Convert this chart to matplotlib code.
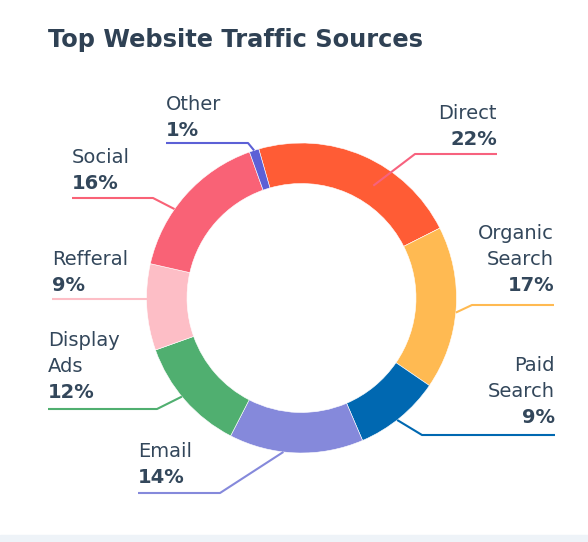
import numpy as np
import matplotlib.pyplot as plt

# ---
# Data
# ---
sources = ["Direct", "Organic\nSearch", "Paid\nSearch", "Email", "Display\nAds", "Refferal", "Social", "Other"]
shares = [22, 17, 9, 14, 12, 9, 16, 1]
colors = ["#FF5C35", "#FFBA52", "#0068B1", "#8589DB", "#50AF70", "#FDBEC6", "#F96276", "#5C60D6"]
# connector colours (Direct's connector is pink in the original)
line_colors = ["#F7627E", "#FFBA52", "#0068B1", "#8589DB", "#50AF70", "#FDBEC6", "#F96276", "#5C60D6"]

# ---
# Label layout (pixel coords, y from top)
# text x, first baseline, align, elbow (x, y), end x, connector start (angle nudge deg, radius frac)
# ---
label_x = [497, 554, 555, 138, 48, 52, 72, 166]
label_y0 = [119, 239, 371, 457, 346, 265, 163, 110]
label_ha = ["right", "right", "right", "left", "left", "left", "left", "left"]
elbows = [(415, 154), (472, 305), (422, 435), (220, 493), (157, 409), (147, 299), (153, 198), (248, 143)]
line_end_x = [497, 554, 555, 138, 48, 52, 72, 166]
conn_nudge = [9.0, 1.6, 1.3, 4.7, 1.7, 3.0, -6.6, 0.0]
conn_rfrac = [0.86, 1.0, 1.0, 1.0, 1.0, 1.0, 1.0, 1.0]

W, H = 588, 542
text_color = "#33475B"
font = "DejaVu Sans"

fig = plt.figure(figsize=(W / 100, H / 100), dpi=100)
ax = fig.add_axes([0, 0, 1, 1])

cx, cy = 301.5, H - 298
R, ring = 155, 40.5
start = 106

ax.pie(shares, colors=colors, center=(cx, cy), radius=R, startangle=start,
       counterclock=False, wedgeprops=dict(width=ring, edgecolor="white", linewidth=0.4))
ax.set_xlim(0, W)
ax.set_ylim(0, H)
ax.set_aspect("equal")
ax.axis("off")

# bottom strip
ax.axhspan(0, H - 535, color="#EEF3F8", zorder=0)

# ---
# Labels and connectors
# ---
cum = np.cumsum([0] + shares[:-1])
for i, name in enumerate(sources):
    mid = start - (cum[i] + shares[i] / 2) * 3.6 - conn_nudge[i]
    r0 = R * conn_rfrac[i]
    x0 = cx + r0 * np.cos(np.radians(mid))
    y0 = cy + r0 * np.sin(np.radians(mid))
    ex, ey = elbows[i]
    ax.plot([x0, ex, line_end_x[i]], [y0, H - ey, H - ey], color=line_colors[i], lw=1.5,
            solid_capstyle="butt", zorder=3)

    lines = name.split("\n")
    y = label_y0[i]
    for ln in lines:
        ax.text(label_x[i], H - y, ln, ha=label_ha[i], va="baseline", fontsize=14,
                color=text_color, family=font)
        y += 26
    ax.text(label_x[i], H - y, f"{shares[i]}%", ha=label_ha[i], va="baseline", fontsize=14,
            color=text_color, family=font, fontweight="bold")

fig.text(48 / W, 1 - 47 / H, "Top Website Traffic Sources", ha="left", va="baseline",
         fontsize=17.4, fontweight="bold", color="#2F4154", family=font)

fig.savefig("out.png", dpi=100)
